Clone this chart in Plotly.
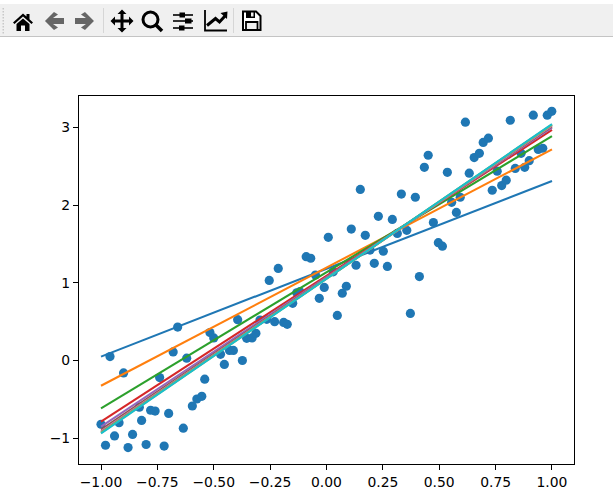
import plotly.graph_objects as go

# ---- data ----
scatter_x = [-1.00,-0.98,-0.96,-0.94,-0.92,-0.90,-0.88,-0.86,-0.83,-0.82,-0.80,-0.78,-0.76,-0.74,-0.72,-0.70,-0.68,-0.66,-0.635,-0.62,
 -0.595,-0.575,-0.553,-0.54,-0.517,-0.50,-0.47,-0.453,-0.43,-0.413,-0.394,-0.373,-0.354,-0.33,-0.313,-0.295,-0.265,-0.254,-0.23,-0.214,
 -0.19,-0.174,-0.15,-0.132,-0.118,-0.09,-0.07,-0.049,-0.032,-0.01,0.008,0.03,0.048,0.07,0.088,0.11,0.131,0.15,0.172,0.193,
 0.212,0.23,0.252,0.27,0.292,0.314,0.332,0.356,0.372,0.394,0.412,0.434,0.451,0.474,0.496,0.514,0.536,0.555,0.576,0.593,
 0.616,0.633,0.655,0.678,0.695,0.718,0.735,0.757,0.777,0.797,0.815,0.837,0.863,0.879,0.899,0.917,0.939,0.959,0.979,0.999]
scatter_y = [-0.82,-1.09,0.05,-0.97,-0.80,-0.16,-1.12,-0.95,-0.60,-0.77,-1.08,-0.64,-0.65,-0.22,-1.10,-0.68,0.11,0.43,-0.87,0.03,
 -0.585,-0.495,-0.46,-0.24,0.36,0.29,0.08,-0.05,0.13,0.13,0.525,0.00,0.285,0.29,0.35,0.52,0.53,1.03,0.50,1.185,
 0.49,0.465,0.735,0.87,0.885,1.335,1.315,1.10,0.80,0.94,1.585,1.14,0.58,0.865,0.955,1.69,1.225,2.20,1.61,1.42,
 1.25,1.855,1.405,1.21,1.815,1.635,2.14,1.675,0.605,2.10,1.08,2.485,2.64,1.775,1.515,1.47,2.42,2.035,1.905,2.10,
 3.065,2.41,2.61,2.665,2.805,2.86,2.19,2.435,2.25,2.32,3.09,2.47,2.665,2.485,2.57,3.155,2.715,2.73,3.155,3.205]

line_x = [-1.0, 1.0]
line_start = [0.05,-0.325,-0.615,-0.785,-0.85,-0.89,-0.91,-0.92,-0.93,-0.936]
line_end = [2.31,2.715,2.885,2.965,2.995,3.01,3.02,3.03,3.035,3.04]
line_colors = ["#1f77b4","#ff7f0e","#2ca02c","#d62728","#9467bd","#8c564b","#e377c2","#7f7f7f","#bcbd22","#17becf"]

x_ticks = [-1.0,-0.75,-0.5,-0.25,0.0,0.25,0.5,0.75,1.0]
y_ticks = [-1,0,1,2,3]

# ---- page geometry ----
W, H = 613, 498
L, R, T, B = 79, 574, 96, 464
FONT = "DejaVu Sans"

fig = go.Figure()
fig.add_trace(go.Scatter(x=scatter_x, y=scatter_y, mode="markers",
                         marker=dict(color="#1f77b4", size=9.2, line=dict(width=0)),
                         showlegend=False, hoverinfo="skip"))
for s, e, c in zip(line_start, line_end, line_colors):
    fig.add_trace(go.Scatter(x=line_x, y=[s, e], mode="lines", line=dict(color=c, width=2.08),
                             showlegend=False, hoverinfo="skip"))

# ---- toolbar chrome, drawn in page pixels ----
def px(x): return (x - L) / (R - L)
def py(y): return (B - y) / (B - T)

shapes = []
def path(points, fill=None, line=None, width=0, close=True):
    d = "M" + " L".join(f"{px(x):.5f},{py(y):.5f}" for x, y in points) + (" Z" if close else "")
    shapes.append(dict(type="path", xref="paper", yref="paper", path=d,
                       fillcolor=fill if fill else "rgba(0,0,0,0)",
                       line=dict(color=line if line else "rgba(0,0,0,0)", width=width)))
def rect(x0, y0, x1, y1, fill): path([(x0,y0),(x1,y0),(x1,y1),(x0,y1)], fill=fill)
def seg(points, color="#000000", width=2): path(points, line=color, width=width, close=False)

rect(0, 4, W, 36, "#f0f0f0")
rect(0, 36, W, 37, "#c4c4c4")
for i in range(9):
    rect(2.5, 8 + i * 3, 4, 9.5 + i * 3, "#c8c8c8")
rect(103, 8, 104, 33, "#d6d6d6")
rect(233, 8, 234, 33, "#d6d6d6")

# home
path([(13,22.5),(23,13.5),(26.5,16.5),(26.5,14),(29.5,14),(29.5,19.2),(33,22.5),(31.5,24),(23,16.5),(14.5,24)], fill="#000000")
path([(16.5,24),(23,18.5),(29.5,24),(29.5,31),(25,31),(25,25.5),(21,25.5),(21,31),(16.5,31)], fill="#000000")
# back / forward
GREY = "#666666"
back = [(45,21),(54,12),(58,14.5),(53,18),(64,18),(64,24),(53,24),(58,27.5),(54,30)]
path(back, fill=GREY)
path([(139 - x, y) for x, y in back], fill=GREY)
# move
c = (122, 21)
path([(c[0]-1.5,c[1]-7),(c[0]-4.5,c[1]-7),(c[0],c[1]-11.5),(c[0]+4.5,c[1]-7),(c[0]+1.5,c[1]-7),(c[0]+1.5,c[1]-1.5),
      (c[0]+7,c[1]-1.5),(c[0]+7,c[1]-4.5),(c[0]+11.5,c[1]),(c[0]+7,c[1]+4.5),(c[0]+7,c[1]+1.5),(c[0]+1.5,c[1]+1.5),
      (c[0]+1.5,c[1]+7),(c[0]+4.5,c[1]+7),(c[0],c[1]+11.5),(c[0]-4.5,c[1]+7),(c[0]-1.5,c[1]+7),(c[0]-1.5,c[1]+1.5),
      (c[0]-7,c[1]+1.5),(c[0]-7,c[1]+4.5),(c[0]-11.5,c[1]),(c[0]-7,c[1]-4.5),(c[0]-7,c[1]-1.5),(c[0]-1.5,c[1]-1.5)], fill="#000000")
# zoom
shapes.append(dict(type="circle", xref="paper", yref="paper", x0=px(143), x1=px(158), y0=py(27), y1=py(12),
                   fillcolor="rgba(0,0,0,0)", line=dict(color="#000000", width=3)))
seg([(155,24),(162,31)], width=3.6)
# configure
for y in (15, 21, 28):
    seg([(173,y),(193,y)], width=1.6)
rect(179.5, 12.5, 185, 17.5, "#000000")
rect(185, 18.5, 191.5, 23.5, "#000000")
rect(179, 25.5, 184.5, 30.5, "#000000")
# edit axes
seg([(205,10),(205,30.5),(227,30.5)], width=1.8)
seg([(207,25.5),(215.5,18.5),(219.5,22),(225,16)], width=3)
path([(220.5,13),(227.5,11.5),(227,19)], fill="#000000")
# save
path([(243,11.5),(256,11.5),(260.5,16),(260.5,30),(243,30)], fill="#ffffff", line="#000000", width=2)
rect(246, 11.5, 255, 18, "#000000")
rect(251, 12.5, 253.5, 16.5, "#f0f0f0")
path([(246,22),(257.5,22),(257.5,30),(246,30)], fill="#f0f0f0", line="#000000", width=1.8)

x_span = 0.0976
fig.update_layout(
    width=W, height=H, autosize=False,
    margin=dict(l=L, r=W - R, t=T, b=H - B, pad=0, autoexpand=False),
    paper_bgcolor="#ffffff", plot_bgcolor="#ffffff",
    font=dict(family=FONT, size=13.9, color="#000000"),
    shapes=shapes, showlegend=False,
    xaxis=dict(range=[-1 - x_span, 1 + x_span], tickmode="array", tickvals=x_ticks, tickformat=".2f",
               ticks="outside", ticklen=5, tickwidth=1.1, tickcolor="#000000",
               showline=True, mirror=True, linecolor="#000000", linewidth=1.1,
               showgrid=False, zeroline=False),
    yaxis=dict(range=[-1.331, 3.402], tickmode="array", tickvals=y_ticks,
               ticks="outside", ticklen=5, tickwidth=1.1, tickcolor="#000000",
               showline=True, mirror=True, linecolor="#000000", linewidth=1.1,
               showgrid=False, zeroline=False),
)

fig.write_html("out.html", config=dict(displayModeBar=False),
               post_script="document.body.style.margin='0';")
